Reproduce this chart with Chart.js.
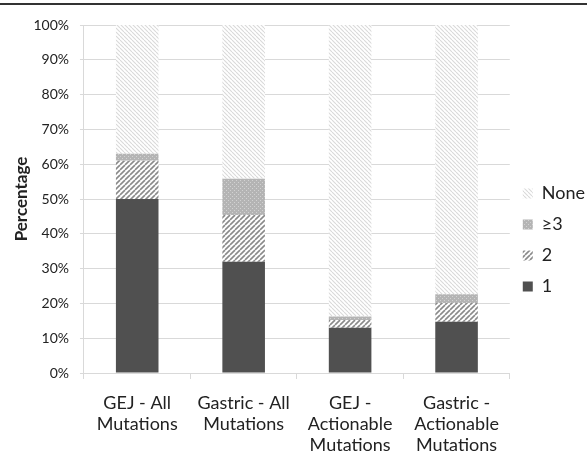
<!DOCTYPE html>
<html>
<head>
<meta charset="utf-8">
<script src="https://cdn.jsdelivr.net/npm/chart.js@4/dist/chart.umd.min.js"></script>
<style>
  body { margin: 0; background: #fff; }
  #wrap { position: relative; width: 587px; height: 455px; }
  #topline { position: absolute; left: 0; top: 3px; width: 587px; height: 2px; background: #333; }
  #box { position: absolute; left: 0; top: 0; width: 587px; height: 455px; }
</style>
</head>
<body>
<div id="wrap">
  <div id="topline"></div>
  <div id="box"><canvas id="myChart"></canvas></div>
</div>
<script>
// categories and values (percent)
const categories = [
  ['GEJ - All', 'Mutations'],
  ['Gastric - All', 'Mutations'],
  ['GEJ -', 'Actionable', 'Mutations'],
  ['Gastric -', 'Actionable', 'Mutations']
];
const seriesNames = ['1', '2', '\u22653', 'None'];
const ones = [50, 32, 13, 14.7];
const twos = [11, 13.4, 2.2, 5.4];
const threes = [2, 10.4, 1, 2.5];
const none = [37, 44.2, 83.8, 77.4];
const yTicks = [0, 10, 20, 30, 40, 50, 60, 70, 80, 90, 100];

// stripe pattern helper
function stripes(bg, fg, size, width, dir) {
  const c = document.createElement('canvas');
  c.width = size; c.height = size;
  const g = c.getContext('2d');
  g.fillStyle = bg;
  g.fillRect(0, 0, size, size);
  g.strokeStyle = fg;
  g.lineWidth = width;
  for (let k = -1; k <= 1; k++) {
    g.beginPath();
    if (dir > 0) { // "/"
      g.moveTo(k * size, size);
      g.lineTo(k * size + size, 0);
    } else { // "\"
      g.moveTo(k * size, 0);
      g.lineTo(k * size + size, size);
    }
    g.stroke();
  }
  return g.createPattern(c, 'repeat');
}

function dots() {
  const c = document.createElement('canvas');
  c.width = 4; c.height = 4;
  const g = c.getContext('2d');
  g.fillStyle = '#b4b4b4';
  g.fillRect(0, 0, 4, 4);
  g.fillStyle = '#d2d2d2';
  g.fillRect(0, 0, 1, 1);
  g.fillRect(2, 2, 1, 1);
  return g.createPattern(c, 'repeat');
}

document.addEventListener('DOMContentLoaded', () => {
  const ctx = document.getElementById('myChart');
  const fills = [
    '#505050',
    stripes('#ffffff', '#8a8a8a', 5, 1.6, 1),
    dots(),
    stripes('#ffffff', '#d9d9d9', 4, 1.1, -1)
  ];
  const values = [ones, twos, threes, none];

  Chart.defaults.font.family = 'Lato, "Open Sans", sans-serif';
  Chart.defaults.color = '#222';

  new Chart(ctx, {
    type: 'bar',
    data: {
      labels: categories,
      datasets: values.map((v, i) => ({
        label: seriesNames[i],
        data: v,
        backgroundColor: fills[i],
        borderWidth: 0,
        barPercentage: 0.4,
        categoryPercentage: 1
      }))
    },
    options: {
      responsive: true,
      maintainAspectRatio: false,
      animation: false,
      layout: { padding: { top: 25, left: 5, right: -8, bottom: 0 } },
      plugins: {
        tooltip: { enabled: false },
        legend: {
          position: 'right',
          reverse: true,
          labels: {
            boxWidth: 10,
            boxHeight: 10,
            padding: 13,
            font: { size: 18 },
            color: '#222'
          }
        }
      },
      scales: {
        x: {
          stacked: true,
          afterFit: (scale) => { scale.height = 82; },
          grid: { drawOnChartArea: false, color: '#d9d9d9', tickLength: 6 },
          border: { color: '#d9d9d9' },
          ticks: { font: { size: 18, lineHeight: 1.15 }, color: '#222', padding: 14, maxRotation: 0 }
        },
        y: {
          stacked: true,
          min: 0,
          max: 100,
          afterBuildTicks: (axis) => { axis.ticks = yTicks.map(v => ({ value: v })); },
          grid: { color: '#d9d9d9', tickLength: 4 },
          border: { color: '#d9d9d9' },
          ticks: { font: { size: 14 }, color: '#222', padding: 11, callback: v => v + '%' },
          title: { display: true, text: 'Percentage', font: { size: 17, weight: 'bold' }, color: '#222', padding: { top: 6, bottom: -9 } }
        }
      }
    }
  });
});
</script>
</body>
</html>
